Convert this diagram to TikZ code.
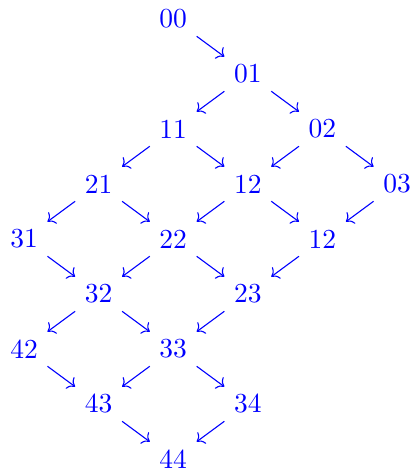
\documentclass[tikz,border=0pt]{standalone}
\usepackage{tikz}
\usetikzlibrary{arrows.meta}

\begin{document}
\begin{tikzpicture}[x=27.127pt,y=-20pt,every node/.style={text=blue},
    arr/.style={draw=blue,-{To}}]
  \useasboundingbox (-0.322,-0.345) rectangle (5.214,8.273);
  % lattice of index pairs
  \node (n00) at (2,0) {00};
  \node (n01) at (3,1) {01};
  \node (n11) at (2,2) {11};
  \node (n02) at (4,2) {02};
  \node (n21) at (1,3) {21};
  \node (n12) at (3,3) {12};
  \node (n03) at (5,3) {03};
  \node (n31) at (0,4) {31};
  \node (n22) at (2,4) {22};
  \node (n12b) at (4,4) {12};
  \node (n32) at (1,5) {32};
  \node (n23) at (3,5) {23};
  \node (n42) at (0,6) {42};
  \node (n33) at (2,6) {33};
  \node (n43) at (1,7) {43};
  \node (n34) at (3,7) {34};
  \node (n44) at (2,8) {44};
  % arrows
  \foreach \a/\b in {n00/n01, n01/n11, n01/n02, n11/n21, n11/n12, n02/n12,
      n02/n03, n21/n31, n21/n22, n12/n22, n12/n12b, n03/n12b, n31/n32,
      n22/n32, n22/n23, n12b/n23, n32/n42, n32/n33, n23/n33, n42/n43,
      n33/n43, n33/n34, n43/n44, n34/n44}
    \draw[arr] (\a) -- (\b);
\end{tikzpicture}
\end{document}
